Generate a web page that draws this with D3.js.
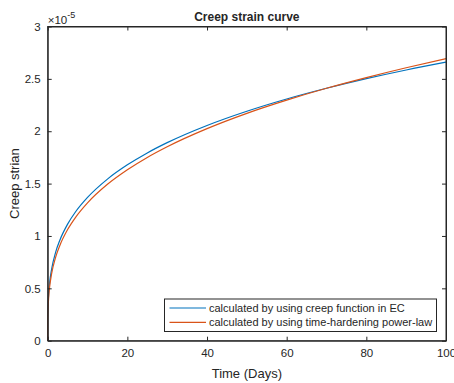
<!DOCTYPE html>
<html>
<head>
<meta charset="utf-8">
<script src="https://cdn.jsdelivr.net/npm/d3@7"></script>
<style>
  body { margin: 0; background: #fff; }
  text { font-family: "Liberation Sans", Arial, sans-serif; fill: #262626; }
</style>
</head>
<body>
<script>
// days and creep strain (x 1e-5)
const days = [0, 0.02, 0.05, 0.1, 0.25, 0.5, 1, 2, 3, 5, 7, 10, 15, 20, 25, 30, 40, 50, 60, 70, 80, 90, 100]
const ecStrain = [0, 0.213, 0.28, 0.345, 0.454, 0.559, 0.687, 0.846, 0.955, 1.113, 1.231, 1.368, 1.543, 1.679, 1.793, 1.891, 2.055, 2.191, 2.308, 2.41, 2.502, 2.585, 2.66]
const powerStrain = [0, 0.19, 0.253, 0.314, 0.418, 0.518, 0.643, 0.798, 0.905, 1.061, 1.178, 1.316, 1.493, 1.632, 1.75, 1.852, 2.025, 2.171, 2.297, 2.41, 2.512, 2.606, 2.693]
const seriesNames = ["calculated by using creep function in EC", "calculated by using time-hardening power-law"]
const xTicks = [0, 20, 40, 60, 80, 100]
const yTicks = [0, 0.5, 1, 1.5, 2, 2.5, 3]

const W = 454, H = 383
const mLeft = 47.7, mRight = 446, mTop = 26.5, mBottom = 340.7
const colors = ["#0072BD", "#D95319"]

const svg = d3.select("body").append("svg")
    .attr("width", W)
    .attr("height", H)

const x = d3.scaleLinear().domain([0, 100]).range([mLeft, mRight])
const y = d3.scaleLinear().domain([0, 3]).range([mBottom, mTop])

// curves
const line = d3.line()
    .x(d => x(d[0]))
    .y(d => y(d[1]))
    .curve(d3.curveMonotoneX)

const series = [ecStrain, powerStrain]
series.forEach((vals, i) => {
    svg.append("path")
        .datum(days.map((t, j) => [t, vals[j]]))
        .attr("d", line)
        .attr("fill", "none")
        .attr("stroke", colors[i])
        .attr("stroke-width", 1.2)
})

// axes (box with inward ticks)
const tl = 4
const fmt = d3.format("")
svg.append("g")
    .attr("transform", `translate(0,${mBottom})`)
    .call(d3.axisBottom(x).tickValues(xTicks).tickSizeInner(-tl).tickSizeOuter(0).tickPadding(8).tickFormat(fmt))
svg.append("g")
    .attr("transform", `translate(0,${mTop})`)
    .call(d3.axisTop(x).tickValues(xTicks).tickSizeInner(-tl).tickSizeOuter(0).tickFormat(""))
svg.append("g")
    .attr("transform", `translate(${mLeft},0)`)
    .call(d3.axisLeft(y).tickValues(yTicks).tickSizeInner(-tl).tickSizeOuter(0).tickPadding(7).tickFormat(fmt))
svg.append("g")
    .attr("transform", `translate(${mRight},0)`)
    .call(d3.axisRight(y).tickValues(yTicks).tickSizeInner(-tl).tickSizeOuter(0).tickFormat(""))

svg.selectAll(".domain").attr("stroke", "#262626")
svg.selectAll(".tick line").attr("stroke", "#262626")
svg.selectAll(".tick text")
    .attr("font-size", 11.5)
    .attr("font-family", "Liberation Sans, Arial, sans-serif")
    .attr("fill", "#262626")

svg.append("rect")
    .attr("x", mLeft).attr("y", mTop)
    .attr("width", mRight - mLeft).attr("height", mBottom - mTop)
    .attr("fill", "none")
    .attr("stroke", "#262626")

// exponent
const ex = svg.append("text")
    .attr("x", mLeft)
    .attr("y", 23.5)
    .attr("font-size", 11.5)
ex.append("tspan").text("×10")
ex.append("tspan").attr("dy", -6).attr("font-size", 9).text("-5")

// title and labels
svg.append("text")
    .attr("x", (mLeft + mRight) / 2)
    .attr("y", 21)
    .attr("text-anchor", "middle")
    .attr("font-size", 12)
    .attr("font-weight", "bold")
    .text("Creep strain curve")

svg.append("text")
    .attr("x", (mLeft + mRight) / 2)
    .attr("y", 378)
    .attr("text-anchor", "middle")
    .attr("font-size", 13)
    .text("Time (Days)")

svg.append("text")
    .attr("transform", `translate(19,${(mTop + mBottom) / 2}) rotate(-90)`)
    .attr("text-anchor", "middle")
    .attr("font-size", 13)
    .text("Creep strian")

// legend
const lg = svg.append("g")
lg.append("rect")
    .attr("x", 164.5).attr("y", 299)
    .attr("width", 272).attr("height", 32.5)
    .attr("fill", "#fff")
    .attr("stroke", "#262626")
seriesNames.forEach((name, i) => {
    const ly = 308 + i * 14.3
    lg.append("line")
        .attr("x1", 169.5).attr("x2", 206)
        .attr("y1", ly).attr("y2", ly)
        .attr("stroke", colors[i])
        .attr("stroke-width", 1.2)
    lg.append("text")
        .attr("x", 209)
        .attr("y", ly + 3.8)
        .attr("font-size", 11)
        .text(name)
})
</script>
</body>
</html>
